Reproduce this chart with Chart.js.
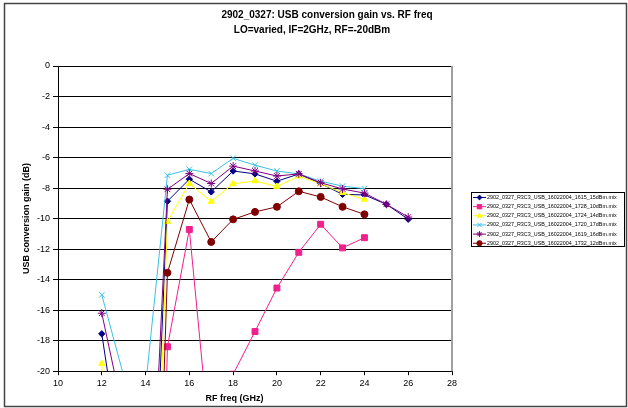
<!DOCTYPE html>
<html>
<head>
<meta charset="utf-8">
<script src="https://cdn.jsdelivr.net/npm/chart.js@4.4.1/dist/chart.umd.min.js"></script>
<style>
  html, body { margin: 0; padding: 0; background: #fff; }
  #wrap { width: 628px; height: 408px; }
</style>
</head>
<body>
<div id="wrap"><canvas id="gainChart" width="628" height="408"></canvas></div>
<script>
// RF frequency points (GHz)
const freqGHz = [12, 13, 14, 15, 16, 17, 18, 19, 20, 21, 22, 23, 24, 25, 26];

// USB conversion gain (dB) per LO setting
const gain1615 = [-17.55, -27, -42.7, -8.86, -7.42, -8.25, -6.88, -7.07, -7.55, -7.08, -7.7, -8.41, -8.45, -9.06, -10.04];
const gain1728 = [null, null, -71, -18.4, -10.71, -25.7, -20.2, -17.4, -14.55, -12.21, -10.37, -11.92, -11.25, null, null];
const gain1724 = [-19.5, -45, -49.4, -10.2, -7.7, -8.88, -7.72, -7.53, -7.9, -7.22, -7.72, -8.3, -8.74, null, null];
const gain1720 = [-15.0, -20.3, -21.0, -7.16, -6.77, -7.05, -6.05, -6.5, -6.88, -7.07, -7.55, -7.87, -8.04, null, null];
const gain1619 = [-16.2, -22.9, -37.9, -8.08, -7.05, -7.7, -6.56, -6.88, -7.21, -7.07, -7.65, -8.06, -8.33, -9.06, -9.9];
const gain1732 = [null, null, -56.5, -13.55, -8.75, -11.53, -10.05, -9.56, -9.23, -8.21, -8.58, -9.23, -9.72, null, null];

const seriesNames = [
    '2902_0327_R3C3_USB_16022004_1615_15dBm.mix',
    '2902_0327_R3C3_USB_16022004_1728_10dBm.mix',
    '2902_0327_R3C3_USB_16022004_1724_14dBm.mix',
    '2902_0327_R3C3_USB_16022004_1720_17dBm.mix',
    '2902_0327_R3C3_USB_16022004_1619_16dBm.mix',
    '2902_0327_R3C3_USB_16022004_1732_12dBm.mix'
];

const xTickValues = [10, 12, 14, 16, 18, 20, 22, 24, 26, 28];
const yTickValues = [0, -2, -4, -6, -8, -10, -12, -14, -16, -18, -20];

const FONT = '"Liberation Sans", Arial, sans-serif';

const seriesValues = [gain1615, gain1728, gain1724, gain1720, gain1619, gain1732];
const seriesColors = ['#000080', '#f0208c', '#ffff00', '#3cc0e4', '#800080', '#800000'];
const seriesMarkers = ['rectRot', 'rect', 'triangle', 'crossRot', 'star', 'circle'];
const markerSizes = [3.2, 4.2, 3.6, 4.0, 4.0, 3.5];

const datasets = seriesValues.map((vals, i) => ({
    label: seriesNames[i],
    data: freqGHz.map((f, j) => ({ x: f, y: vals[j] })),
    borderColor: seriesColors[i],
    backgroundColor: seriesColors[i],
    borderWidth: 1,
    pointStyle: seriesMarkers[i],
    pointRadius: markerSizes[i],
    pointBorderWidth: 1,
    pointBackgroundColor: seriesColors[i],
    pointBorderColor: seriesColors[i],
    tension: 0,
    spanGaps: false,
    clip: 0,
    order: seriesValues.length - i   // later series on top, like Excel
}));

// titles, frame, plot border and boxed legend
const chartDecor = {
    id: 'chartDecor',
    afterDraw(chart) {
        const { ctx, chartArea: a } = chart;
        ctx.save();

        // outer frame
        ctx.strokeStyle = '#444';
        ctx.lineWidth = 1.5;
        ctx.strokeRect(4.5, 3.5, 622, 403);

        // plot area right edge
        ctx.strokeStyle = '#a0a0a0';
        ctx.lineWidth = 2;
        ctx.beginPath();
        ctx.moveTo(a.right, a.top);
        ctx.lineTo(a.right, a.bottom);
        ctx.stroke();

        // chart title
        ctx.fillStyle = '#000';
        ctx.textAlign = 'center';
        ctx.textBaseline = 'middle';
        ctx.font = 'bold 10px ' + FONT;
        ctx.fillText('2902_0327: USB conversion gain vs. RF freq', 327, 15);
        ctx.fillText('LO=varied, IF=2GHz, RF=-20dBm', 312, 30);

        // x axis title
        ctx.font = 'bold 9px ' + FONT;
        ctx.fillText('RF freq (GHz)', 234.5, 399);

        // legend
        const boxL = a.right + 19, boxW = 153, boxH = 54;
        const boxT = Math.round((a.top + a.bottom) / 2 - boxH / 2) + 0.5;
        ctx.strokeStyle = '#000';
        ctx.lineWidth = 1;
        ctx.strokeRect(boxL + 0.5, boxT, boxW, boxH);
        ctx.textAlign = 'left';
        ctx.font = '5.4px ' + FONT;
        chart.data.datasets.forEach((ds, i) => {
            const y = boxT + 5 + i * 9.15;
            ctx.strokeStyle = ds.borderColor;
            ctx.fillStyle = ds.borderColor;
            ctx.lineWidth = 1;
            ctx.beginPath();
            ctx.moveTo(boxL + 2, y);
            ctx.lineTo(boxL + 15, y);
            ctx.stroke();
            Chart.helpers.drawPoint(ctx, {
                pointStyle: ds.pointStyle,
                radius: ds.pointRadius * 0.75,
                rotation: 0,
                borderWidth: 1
            }, boxL + 8.5, y);
            ctx.fillStyle = '#000';
            ctx.fillText(ds.label, boxL + 16, y);
        });

        ctx.restore();
    }
};

new Chart(document.getElementById('gainChart'), {
    type: 'line',
    data: { datasets: datasets },
    options: {
        responsive: false,
        animation: false,
        layout: { padding: { left: 16, right: 176, top: 66, bottom: 16 } },
        plugins: {
            legend: { display: false },
            tooltip: { enabled: false },
            title: { display: false }
        },
        scales: {
            x: {
                type: 'linear',
                position: 'bottom',
                min: 10,
                max: 28,
                afterBuildTicks: (scale) => { scale.ticks = xTickValues.map(v => ({ value: v })); },
                ticks: { font: { family: FONT, size: 9 }, color: '#000', padding: 3, maxRotation: 0 },
                grid: { drawOnChartArea: false, drawTicks: true, tickLength: 4, color: '#000', lineWidth: 1 },
                border: { color: '#000', width: 1 }
            },
            y: {
                type: 'linear',
                min: -20,
                max: 0,
                afterBuildTicks: (scale) => { scale.ticks = yTickValues.map(v => ({ value: v })); },
                ticks: { font: { family: FONT, size: 9 }, color: '#000', padding: 3 },
                grid: { color: '#000', lineWidth: 1, tickLength: 5, drawTicks: true },
                border: { color: '#000', width: 1 },
                title: {
                    display: true,
                    text: 'USB conversion gain (dB)',
                    font: { family: FONT, size: 9, weight: 'bold' },
                    color: '#000',
                    padding: { top: 5.6, bottom: 1.6 }
                }
            }
        }
    },
    plugins: [chartDecor]
});
</script>
</body>
</html>
